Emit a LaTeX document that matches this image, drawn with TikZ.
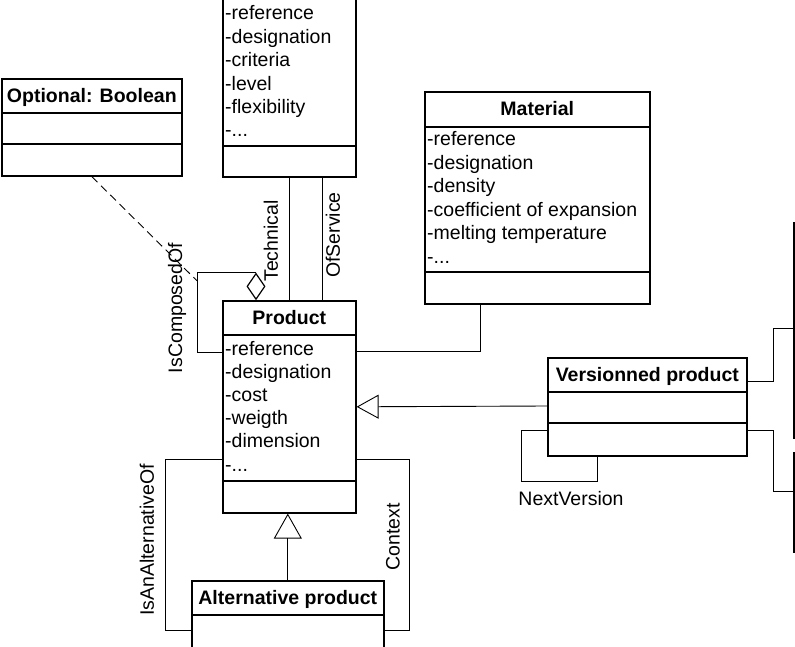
\documentclass[tikz,border=0pt]{standalone}
\usepackage{fontspec}
\setmainfont{Liberation Sans}
\usetikzlibrary{calc,arrows.meta,shapes.geometric}
\newcommand{\mydotsitem}{-...}
\begin{document}
\begin{tikzpicture}[x=1pt,y=-1pt,
  box/.style={draw, rectangle, line width=1.6pt, inner sep=0pt, anchor=north west},
  sepline/.style={line width=1.6pt},
  ttl/.style={font=\bfseries\fontsize{19.5}{23}\selectfont, inner sep=0pt, text height=14pt, text depth=4pt},
  attr/.style={font=\fontsize{19.5}{23}\selectfont, inner sep=0pt, anchor=west, text height=14pt, text depth=4pt},
  lbl/.style={font=\fontsize{19.5}{23}\selectfont, inner sep=0pt},
  conn/.style={line width=0.9pt},
  gen/.style={conn, -{Triangle[open, length=22pt, width=24pt, line width=0.9pt]}},
  genb/.style={conn, -{Triangle[open, length=25pt, width=28pt, line width=0.9pt]}},
]
\useasboundingbox (0,0) rectangle (795,647);

% ---- boxes ----
\node[box, minimum width=133pt, minimum height=216pt] (tb) at (222,-40) {};
\draw[sepline] ([yshift=-186pt]tb.north west) -- ([yshift=-186pt]tb.north east);
\foreach \t [count=\i from 0] in {-reference,-designation,-criteria,-level,-flexibility,\mydotsitem}
  \node[attr] (tba\i) at (225,{15+23.4*\i}) {\t};

\node[box, minimum width=180pt, minimum height=97pt] (opt) at (1,78) {};
\draw[sepline] ([yshift=-35pt]opt.north west) -- ([yshift=-35pt]opt.north east);
\draw[sepline] ([yshift=-66pt]opt.north west) -- ([yshift=-66pt]opt.north east);
\node[ttl] (optt) at ([yshift=-19.5pt]opt.north) {Optional: Boolean};

\node[box, minimum width=225pt, minimum height=212pt] (mat) at (424,91) {};
\draw[sepline] ([yshift=-36pt]mat.north west) -- ([yshift=-36pt]mat.north east);
\draw[sepline] ([yshift=-181pt]mat.north west) -- ([yshift=-181pt]mat.north east);
\node[ttl] (matt) at ([yshift=-19.5pt]mat.north) {Material};
\foreach \t [count=\i from 0] in {-reference,-designation,-density,-coefficient of expansion,-melting temperature,\mydotsitem}
  \node[attr] (mata\i) at (427,{141+23.4*\i}) {\t};

\node[box, minimum width=133pt, minimum height=212pt] (prod) at (222,300) {};
\draw[sepline] ([yshift=-35pt]prod.north west) -- ([yshift=-35pt]prod.north east);
\draw[sepline] ([yshift=-181pt]prod.north west) -- ([yshift=-181pt]prod.north east);
\node[ttl] (prodt) at ([yshift=-19.5pt]prod.north) {Product};
\foreach \t [count=\i from 0] in {-reference,-designation,-cost,-weigth,-dimension,\mydotsitem}
  \node[attr] (proda\i) at (225,{350+23.2*\i}) {\t};

\node[box, minimum width=199pt, minimum height=98pt] (ver) at (547,357) {};
\draw[sepline] ([yshift=-35pt]ver.north west) -- ([yshift=-35pt]ver.north east);
\draw[sepline] ([yshift=-66pt]ver.north west) -- ([yshift=-66pt]ver.north east);
\node[ttl] (vert) at ([yshift=-19.5pt]ver.north) {Versionned product};

\node[box, minimum width=192pt, minimum height=100pt] (alt) at (191,580) {};
\draw[sepline] ([yshift=-35pt]alt.north west) -- ([yshift=-35pt]alt.north east);
\node[ttl] (altt) at ([yshift=-19.5pt]alt.north) {Alternative product};

\node[box, minimum width=60pt, minimum height=215pt] (r1) at (793,222) {};
\node[box, minimum width=60pt, minimum height=99pt] (r2) at (793,452) {};

% ---- connectors ----
\draw[conn] ([xshift=67pt]tb.south west) -- ([xshift=67pt]prod.north west);
\draw[conn] ([xshift=100pt]tb.south west) -- ([xshift=100pt]prod.north west);
\node[lbl, rotate=90] (tech) at (271,241) {Technical};
\node[lbl, rotate=90] (ofs) at (333,235) {OfService};

\node[draw, diamond, line width=1.2pt, inner sep=0pt, minimum width=18pt, minimum height=26pt, anchor=south] (dia) at ([xshift=34pt]prod.north west) {};
\draw[conn] (dia.north) -- ++(-59,0) coordinate (cc) -- ([xshift=-25pt,yshift=-52pt]prod.north west) -- ([yshift=-52pt]prod.north west);
\node[lbl, rotate=90] (isc) at (177,308) {IsComposedOf};
\draw[conn, dash pattern=on 8pt off 5pt] (opt.south) -- ($(cc)+(0,8)$);

\draw[conn] ([xshift=56pt]mat.south west) |- ([yshift=-51pt]prod.north east);

\draw[gen] ([yshift=-49pt]ver.north west) -- (prod.east);

\draw[conn] ([yshift=-73pt]ver.north west) -- ++(-26,0) |- ([xshift=50pt,yshift=-25pt]ver.south west) -- ([xshift=50pt]ver.south west);
\node[lbl] (nv) at (571,499) {NextVersion};

\draw[conn] ([yshift=-24pt]ver.north east) -- ++(26,0) |- ([yshift=-106pt]r1.north west);
\draw[conn] ([yshift=-73pt]ver.north east) -- ++(26,0) |- ([yshift=-39pt]r2.north west);

\draw[genb] (alt.north) -- (alt.north |- prod.south);

\draw[conn] ([yshift=-159pt]prod.north west) -- ++(-57,0) |- ([yshift=-50pt]alt.north west);
\node[lbl, rotate=90] (isa) at (147,540) {IsAnAlternativeOf};
\draw[conn] ([yshift=-159pt]prod.north east) -- ++(53,0) |- ([yshift=-50pt]alt.north east);
\node[lbl, rotate=90] (ctx) at (393,537) {Context};
\end{tikzpicture}
\end{document}
